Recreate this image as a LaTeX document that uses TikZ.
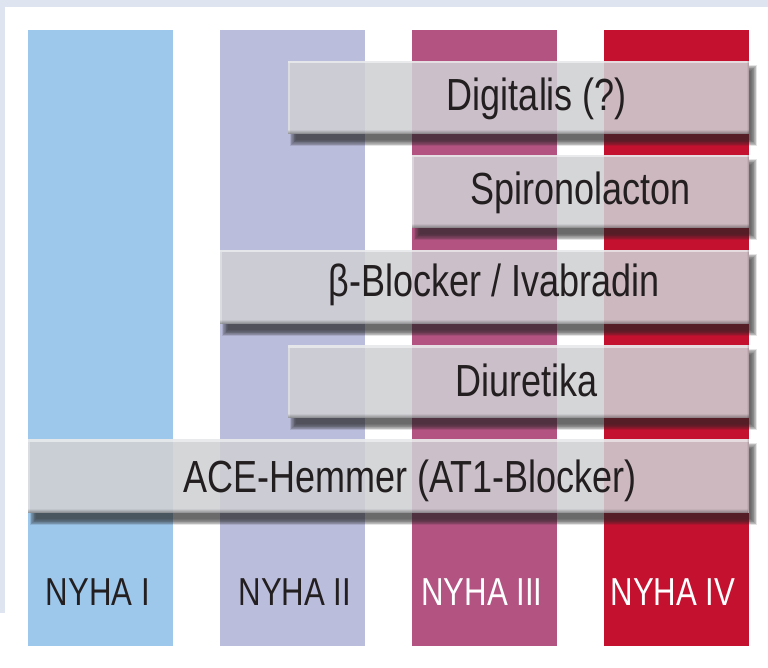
\documentclass[tikz,border=0pt]{standalone}
\usepackage{fontspec}
\setmainfont{Liberation Sans}[FakeStretch=0.8]
\usetikzlibrary{fadings}
\definecolor{framec}{RGB}{222,228,240}
\definecolor{c1}{RGB}{158,200,235}
\definecolor{c2}{RGB}{186,189,220}
\definecolor{c3}{RGB}{179,83,130}
\definecolor{c4}{RGB}{196,17,48}
\definecolor{barc}{RGB}{207,208,211}
\definecolor{txt}{RGB}{35,31,32}
\tikzset{
  colbox/.style={draw=none, inner sep=0pt, minimum width=145pt, minimum height=616pt, anchor=north west},
  barbox/.style={fill=barc, fill opacity=0.88, draw=none, inner sep=0pt, anchor=north west},
  barlbl/.style={inner sep=0pt, anchor=base, text=txt, font=\fontsize{45}{50}\selectfont},
  nyha/.style={inner sep=0pt, anchor=base, font=\fontsize{39}{44}\selectfont},
}
% name, x, y, width, height
\newcommand{\mkbar}[5]{%
  \begin{scope}
    \clip (0,0) rectangle (768,668) ({#2+#4},#3) rectangle (#2,{#3+#5});
    \foreach \i in {0,...,8} {%
      \fill[black!85, opacity=0.12] ({#2+2+\i*0.7},{#3+4+\i*0.7}) rectangle ({#2+#4+8-\i*0.7},{#3+#5+12-\i*0.7});
    }
  \end{scope}
  \node[barbox, minimum width=#4pt, minimum height=#5pt] (#1) at (#2,#3) {};
  \fill[white, opacity=0.5] (#1.north west) rectangle ([yshift=-2.5pt]#1.north east);
  \fill[white, opacity=0.3] ([yshift=-2.5pt]#1.north west) rectangle ([xshift=2pt]#1.south west);
  \fill[black, opacity=0.4, path fading=north] ([yshift=5pt]#1.south west) rectangle (#1.south east);
  \fill[black, opacity=0.25, path fading=west] ([xshift=-3pt]#1.north east) rectangle (#1.south east);
}
\begin{document}
\begin{tikzpicture}[x=1pt, y=-1pt]
\useasboundingbox (0,0) rectangle (768,668);
\fill[framec] (0,0) rectangle (768,7);
\fill[framec] (0,7) rectangle (5,613);
% columns
\node[colbox, fill=c1] (col1) at (28,30) {};
\node[colbox, fill=c2] (col2) at (220,30) {};
\node[colbox, fill=c3] (col3) at (412,30) {};
\node[colbox, fill=c4] (col4) at (604,30) {};
% column labels
\node[nyha, text=txt] (n1) at (98,605) {NYHA I};
\node[nyha, text=txt] (n2) at (295,605) {NYHA II};
\node[nyha, text=white] (n3) at (482,605) {NYHA III};
\node[nyha, text=white] (n4) at (673,605) {NYHA IV};
% bars
\mkbar{bdig}{288}{61}{461}{73}
\node[barlbl] (tdig) at (537,111) {Digitalis (?)};
\mkbar{bspi}{412}{155}{337}{73}
\node[barlbl] (tspi) at (580.5,205) {Spironolacton};
\mkbar{bbet}{220}{250}{529}{74}
\node[barlbl] (tbet) at (494,297) {β-Blocker / Ivabradin};
\mkbar{bdiu}{288}{345}{461}{73}
\node[barlbl] (tdiu) at (527,396) {Diuretika};
\mkbar{bace}{28}{439}{721}{74}
\node[barlbl] (tace) at (410,492) {ACE-Hemmer (AT1-Blocker)};
\end{tikzpicture}
\end{document}
